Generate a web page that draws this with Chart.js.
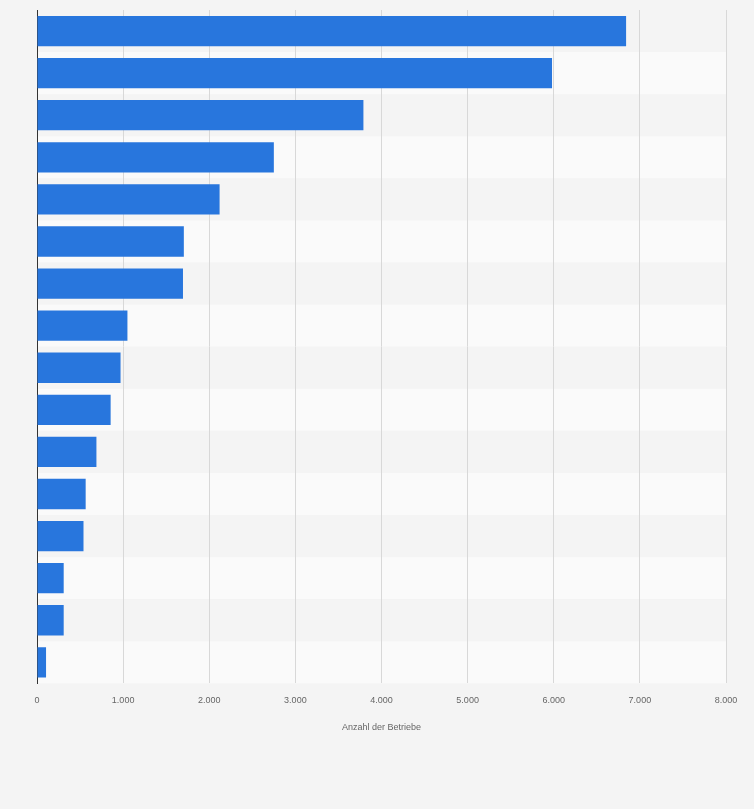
<!DOCTYPE html>
<html><head><meta charset="utf-8">
<script src="https://cdn.jsdelivr.net/npm/chart.js@4"></script>
<style>html,body{margin:0;background:#f4f4f4}#w{width:754px;height:809px}</style></head>
<body><div id="w"><canvas id="c"></canvas></div>
<script>
const categories = ["1","2","3","4","5","6","7","8","9","10","11","12","13","14","15","16"];
const values = [6840,5980,3790,2750,2120,1705,1695,1050,970,855,690,565,540,310,310,105];
const xTicks = [0,1000,2000,3000,4000,5000,6000,7000,8000];
const stripes = {id:'stripes',beforeDraw(ch){const {ctx,chartArea:a,scales:{y}}=ch;const h=(a.bottom-a.top)/categories.length;
ctx.save();categories.forEach((c,i)=>{ctx.fillStyle=i%2?'#fafafa':'#f4f4f4';ctx.fillRect(a.left,a.top+i*h,a.right-a.left,h);});ctx.restore();}};
new Chart(document.getElementById('c'),{type:'bar',data:{labels:categories,datasets:[{data:values,backgroundColor:'#2876dd',categoryPercentage:0.72,barPercentage:1}]},
options:{indexAxis:'y',responsive:true,maintainAspectRatio:false,animation:false,
layout:{padding:{left:29,right:28,top:10,bottom:72}},
plugins:{legend:{display:false},tooltip:{enabled:false}},
scales:{x:{min:0,max:8000,afterBuildTicks(s){s.ticks=xTicks.map(v=>({value:v}));},
grid:{color:'#d8d8d8',borderDash:[2,2],drawTicks:false},border:{display:false},
ticks:{padding:12,color:'#666',font:{family:'Liberation Sans, Arial',size:9},callback:v=>v.toLocaleString('de-DE')},
title:{display:true,text:'Anzahl der Betriebe',color:'#666',font:{family:'Liberation Sans, Arial',size:9},padding:{top:4}}},
y:{grid:{display:false},border:{display:true,color:'#333',width:1},ticks:{display:false}}}},
plugins:[stripes]});
</script></body></html>
